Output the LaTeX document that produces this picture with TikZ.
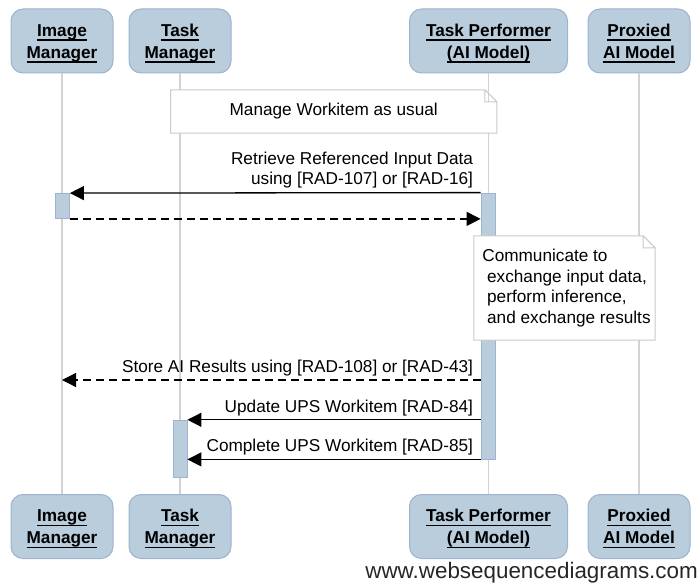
\documentclass[tikz,border=0pt]{standalone}
\usepackage{fontspec}
\setmainfont{Liberation Sans}
\usetikzlibrary{arrows.meta,positioning}

\definecolor{actorfill}{HTML}{B9CDDC}
\definecolor{actorline}{HTML}{9DB3CF}
\definecolor{lifegray}{HTML}{D2D2D2}
\definecolor{notegray}{HTML}{CACACA}

\newcommand\uname[1]{\setbox0=\hbox{#1}\rule{0pt}{17pt}\rlap{\rule[-4.2pt]{\wd0}{1.3pt}}\box0}

\tikzset{
  actor/.style={draw=actorline, fill=actorfill, line width=1pt, rounded corners=12pt,
    minimum height=64pt, inner sep=0pt, align=center,
    font=\fontsize{17.2}{22}\selectfont\bfseries},
  life/.style={draw=lifegray, line width=1.5pt},
  activation/.style={draw=actorline, fill=actorfill, line width=0.8pt,
    minimum width=14pt, inner sep=0pt},
  noteframe/.style={inner sep=0pt},
  noteline/.style={draw=notegray, fill=white, line width=1pt},
  notetext/.style={inner sep=0pt, font=\fontsize{17.2}{20.6}\selectfont},
  msg/.style={-{Triangle[length=14pt,width=14pt]}, line width=1.3pt},
  reply/.style={msg, dash pattern=on 8pt off 5pt},
  msglabel/.style={anchor=south east, inner sep=0pt, xshift=-7pt, yshift=3.4pt,
    align=right, font=\fontsize{17.2}{20.6}\selectfont}
}

\begin{document}
\begin{tikzpicture}[x=1pt, y=-1pt]
\useasboundingbox (0,0) rectangle (699,586);

\node[actor, minimum width=102pt] (imTop) at (62,41) {\uname{Image}\\\uname{Manager}};
\node[actor, minimum width=102pt] (tmTop) at (180,41) {\uname{Task}\\\uname{Manager}};
\node[actor, minimum width=158pt] (tpTop) at (488.5,41) {\uname{Task Performer}\\\uname{(AI Model)}};
\node[actor, minimum width=102pt] (pmTop) at (639,41) {\uname{Proxied}\\\uname{AI Model}};

\node[actor, minimum width=102pt] (imBot) at (62,526.5) {\uname{Image}\\\uname{Manager}};
\node[actor, minimum width=102pt] (tmBot) at (180,526.5) {\uname{Task}\\\uname{Manager}};
\node[actor, minimum width=158pt] (tpBot) at (488.5,526.5) {\uname{Task Performer}\\\uname{(AI Model)}};
\node[actor, minimum width=102pt] (pmBot) at (639,526.5) {\uname{Proxied}\\\uname{AI Model}};

\foreach \p in {im,tm,tp,pm}
  \draw[life] (\p Top) -- (\p Bot);

\node[activation, minimum height=25pt] (imAct) at (62.5,206) {};
\node[activation, minimum height=266pt] (tpAct) at (488,326) {};
\node[activation, minimum height=57pt] (tmAct) at (180,448.7) {};

% notes with a folded corner
\node[noteframe, minimum width=326pt, minimum height=43pt] (usual) at (333.7,111.5) {};
\node[noteframe, minimum width=181pt, minimum height=104pt] (talk) at (564.5,288) {};
\foreach \n in {usual,talk}
  \filldraw[noteline] (\n.north west) -- ([xshift=-12pt]\n.north east)
    -- ([yshift=-12pt]\n.north east) -- (\n.south east) -- (\n.south west) -- cycle
    ([xshift=-12pt]\n.north east) |- ([yshift=-12pt]\n.north east);
\node[notetext] (usualText) at (usual) {Manage Workitem as usual};
\node[notetext, align=left] (talkText) at ([xshift=2pt]talk) {Communicate to\\
  \hspace*{0.28em}exchange input data,\\
  \hspace*{0.28em}perform inference,\\
  \hspace*{0.28em}and exchange results};

\coordinate (storeAt) at (0,380);

\draw[msg] (tpAct.north west) -- (imAct.north east)
  node[pos=0, msglabel] (retrieveText) {Retrieve Referenced Input Data\\using [RAD-107] or [RAD-16]};
\draw[reply] (imAct.south east) -- (tpAct.west |- imAct.south east);
\draw[reply] (tpAct.west |- storeAt) -- (imTop.south |- storeAt)
  node[pos=0, msglabel] (storeText) {Store AI Results using [RAD-108] or [RAD-43]};
\draw[msg] (tpAct.west |- tmAct.north) -- (tmAct.north east)
  node[pos=0, msglabel] (updateText) {Update UPS Workitem [RAD-84]};
\draw[msg] (tpAct.south west) -- (tmAct.east |- tpAct.south west)
  node[pos=0, msglabel] (completeText) {Complete UPS Workitem [RAD-85]};

\node[anchor=base east, inner sep=0pt, text=black!85, font=\fontsize{22.4}{26}\selectfont]
  (credit) at (698,578) {www.websequencediagrams.com};
\end{tikzpicture}
\end{document}
